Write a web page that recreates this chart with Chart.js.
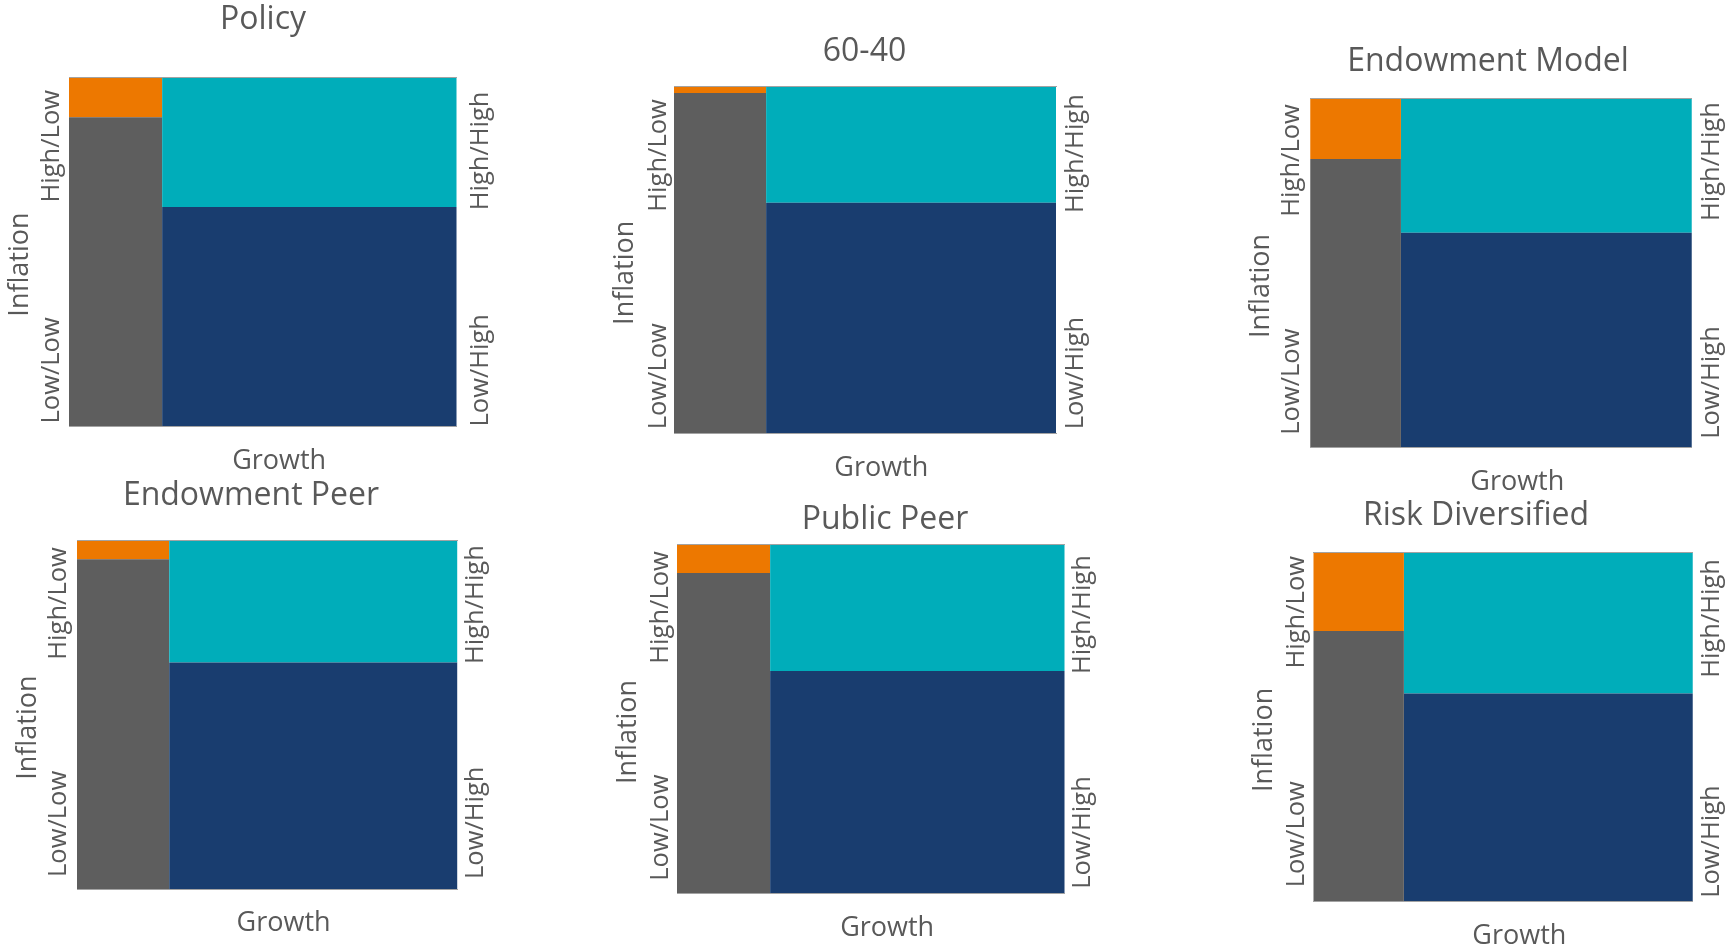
<!DOCTYPE html>
<html>
<head>
<meta charset="utf-8">
<script src="https://cdn.jsdelivr.net/npm/chart.js@4.4.1/dist/chart.umd.min.js"></script>
<style>
  html, body { margin: 0; padding: 0; background: #ffffff; }
  body { position: relative; width: 1726px; height: 947px; overflow: hidden; }
  canvas.panel { position: absolute; }
</style>
</head>
<body>
<script>
// ---------------- DATA ----------------
const portfolios = ['Policy', '60-40', 'Endowment Model', 'Endowment Peer', 'Public Peer', 'Risk Diversified'];
// share of the portfolio in the low-growth column (%)
const lowGrowthShare = [24.0, 24.1, 23.8, 24.2, 24.0, 23.9];
// within the low-growth column, share that is high inflation (%)
const highInflationShareInLowGrowth = [11.5, 1.8, 17.3, 5.3, 8.1, 22.5];
// within the high-growth column, share that is high inflation (%)
const highInflationShareInHighGrowth = [37.2, 33.5, 38.4, 35.0, 36.2, 40.4];
// regime labels (Inflation/Growth)
const leftTickLabels = ['High/Low', 'Low/Low'];
const rightTickLabels = ['High/High', 'Low/High'];
const xAxisTitle = 'Growth';
const yAxisTitle = 'Inflation';

// ---------------- STYLE / LAYOUT ----------------
const FONT = '"Open Sans", "Noto Sans", sans-serif';
const TEXT = '#595959';
const EDGE = '#a3a3a3';
const COLORS = { lowLow: '#5e5e5e', highLow: '#ed7800', lowHigh: '#193d6f', highHigh: '#00adba' };
const TITLE_SIZE = 32, AXIS_SIZE = 27, TICK_SIZE = 25.5;
// plot rectangle [left, top, right, bottom] and title centre [x, y] of each panel
const panelPlot = [
  [69, 77, 456.8, 426.5],
  [674, 86.7, 1056, 433.3],
  [1310.1, 98.7, 1691.9, 447.7],
  [77, 540.7, 457.6, 889],
  [677, 544.7, 1064.8, 893.7],
  [1313.2, 552.5, 1692.9, 901.8]
];
const panelTitlePos = [
  [262.9, 20.5], [864.3, 52.5], [1488, 62.5], [250.8, 496], [884.9, 520.5], [1476.2, 515.8]
];
// label placement per panel: [left gap, right gap, HL end, LL start, HH end, LH start]
const panelLabelPos = [
  [17.4, 23.8, 13, 3, 14.5, 0],
  [15, 19.4, 12.5, 4, 7.5, 4],
  [18.5, 20, 5.5, 13, 3.5, 9],
  [18.5, 18.6, 6.5, 12, 4.5, 10],
  [16.5, 18.3, 6.5, 13, 10.5, 5],
  [16.7, 19, 3.5, 14.5, 6.5, 4]
];
const INFL_GAP = 48.4;   // plot left - centre line of "Inflation"
const GROWTH_GAP = 35;   // centre line of "Growth" - plot bottom
const NB = '\u00a0', THIN = '\u2009';

function cornerLabels(pos) {
  return {
    id: 'cornerLabels',
    afterDatasetsDraw(chart) {
      const { ctx, chartArea, scales } = chart;
      const top = scales.y.getPixelForValue(100);
      const bottom = scales.y.getPixelForValue(0);
      const [lg, rg, hl, ll, hh, lh] = pos;
      ctx.save();
      ctx.font = TICK_SIZE + 'px ' + FONT;
      ctx.fillStyle = TEXT;
      ctx.textBaseline = 'middle';
      const put = (text, x, y, align) => {
        ctx.save();
        ctx.translate(x, y);
        ctx.rotate(-Math.PI / 2);
        ctx.textAlign = align;
        ctx.fillText(text, 0, 0);
        ctx.restore();
      };
      put(leftTickLabels[0], chartArea.left - lg, top + hl, 'right');
      put(leftTickLabels[1], chartArea.left - lg, bottom - ll, 'left');
      put(rightTickLabels[0], chartArea.right + rg, top + hh, 'right');
      put(rightTickLabels[1], chartArea.right + rg, bottom - lh, 'left');
      ctx.restore();
    }
  };
}

function buildDatasets(i) {
  const w = lowGrowthShare[i];
  const splitLow = 100 - highInflationShareInLowGrowth[i];
  const splitHigh = 100 - highInflationShareInHighGrowth[i];
  const base = { pointRadius: 0, pointHoverRadius: 0, borderWidth: 0, tension: 0, showLine: true };
  const lowCol = [{ x: 0, y: splitLow }, { x: w, y: splitLow }];
  const highCol = [{ x: w, y: splitHigh }, { x: 100, y: splitHigh }];
  return [
    { ...base, label: 'Low/Low', data: lowCol, fill: 'start', backgroundColor: COLORS.lowLow, borderColor: COLORS.lowLow },
    { ...base, label: 'High/Low', data: lowCol, fill: 'end', backgroundColor: COLORS.highLow, borderColor: COLORS.highLow },
    { ...base, label: 'Low/High', data: highCol, fill: 'start', backgroundColor: COLORS.lowHigh, borderColor: COLORS.lowHigh },
    { ...base, label: 'High/High', data: highCol, fill: 'end', backgroundColor: COLORS.highHigh, borderColor: COLORS.highHigh }
  ];
}

const lhT = TITLE_SIZE * 1.2, lhA = AXIS_SIZE * 1.2;

portfolios.forEach((name, i) => {
  const [pl, pt, pr, pb] = panelPlot[i];
  const [tx, ty] = panelTitlePos[i];
  const d = tx - (pl + pr) / 2;
  const y2Want = Math.max(45, 2 * d + INFL_GAP + lhA / 2 + 2);
  const cRight = Math.round(pr + y2Want);
  const cLeft = Math.round(2 * tx - cRight);
  const cTop = Math.round(ty - lhT / 2);
  const cBottom = Math.round(pb + GROWTH_GAP + lhA / 2);
  const W = cRight - cLeft, H = cBottom - cTop;

  const yW = pl - cLeft;
  const y2W = cRight - pr;
  const yTitlePad = Math.max(0, (pl - INFL_GAP - lhA / 2) - cLeft);
  const titlePadBottom = (pt - cTop) - lhT;
  const xTitlePad = (cBottom - pb) - lhA;

  const cv = document.createElement('canvas');
  cv.className = 'panel';
  cv.width = W; cv.height = H;
  cv.style.left = cLeft + 'px';
  cv.style.top = cTop + 'px';
  cv.style.width = W + 'px';
  cv.style.height = H + 'px';
  document.body.appendChild(cv);

  const hidden = { display: false, drawTicks: false };
  new Chart(cv, {
    type: 'line',
    data: { datasets: buildDatasets(i) },
    plugins: [cornerLabels(panelLabelPos[i])],
    options: {
      responsive: false,
      animation: false,
      events: [],
      devicePixelRatio: 1,
      layout: { padding: 0, autoPadding: false },
      plugins: {
        legend: { display: false },
        tooltip: { enabled: false },
        title: {
          display: true, text: name, color: TEXT, fullSize: true,
          font: { family: FONT, size: TITLE_SIZE, weight: 'normal' },
          padding: { top: 0, bottom: titlePadBottom }
        },
        filler: { propagate: false }
      },
      scales: {
        x: {
          type: 'linear', position: 'bottom', min: 0, max: 100,
          ticks: { display: false }, grid: hidden,
          border: { display: true, color: EDGE, width: 1, z: 1 },
          title: { display: true, text: NB + NB + NB + NB + THIN + xAxisTitle, color: TEXT,
                   font: { family: FONT, size: AXIS_SIZE, weight: 'normal' },
                   padding: { top: xTitlePad, bottom: 0 } }
        },
        x2: {
          type: 'linear', position: 'top', min: 0, max: 100,
          ticks: { display: false }, grid: hidden,
          border: { display: true, color: EDGE, width: 1, z: 1 }
        },
        y: {
          type: 'linear', position: 'left', min: 0, max: 100,
          ticks: { display: false }, grid: hidden, border: { display: false },
          title: { display: true, text: yAxisTitle + NB + NB + NB + THIN, color: TEXT,
                   font: { family: FONT, size: AXIS_SIZE, weight: 'normal' },
                   padding: { top: yTitlePad, bottom: 0 } },
          afterFit: (s) => { s.width = yW; }
        },
        y2: {
          type: 'linear', position: 'right', min: 0, max: 100,
          ticks: { display: false }, grid: hidden, border: { display: false },
          afterFit: (s) => { s.width = y2W; }
        }
      }
    }
  });
});
</script>
</body>
</html>
